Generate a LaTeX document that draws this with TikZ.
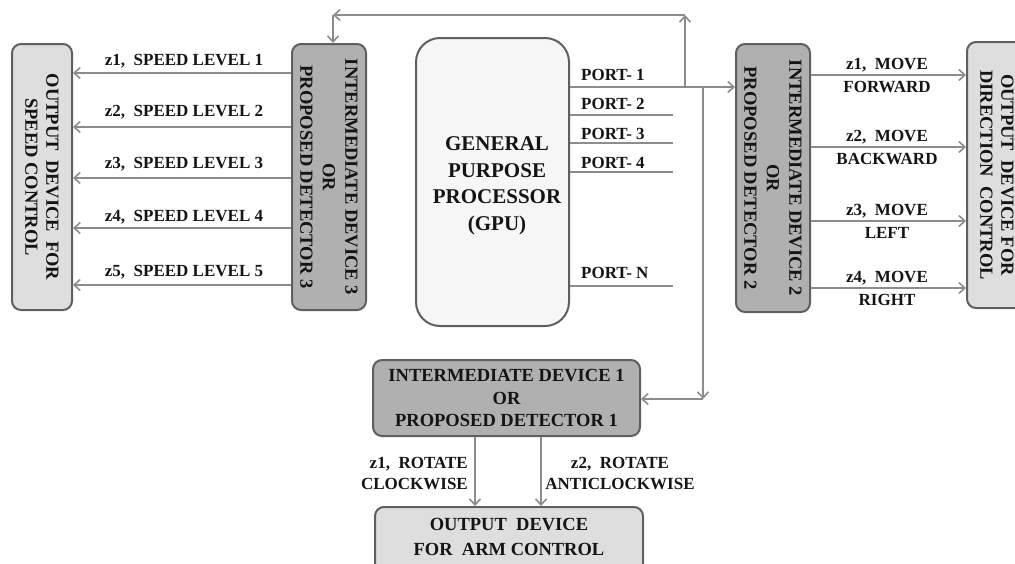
\documentclass[tikz,border=0pt]{standalone}
\usepackage{fontspec}
\setmainfont{Liberation Serif}
\usetikzlibrary{arrows.meta}

\definecolor{boxline}{RGB}{95,95,95}
\definecolor{wire}{RGB}{140,140,140}
\definecolor{darkfill}{RGB}{176,176,176}
\definecolor{lightfill}{RGB}{222,222,222}
\definecolor{gpufill}{RGB}{246,246,246}
\definecolor{ink}{RGB}{20,20,20}

\tikzset{
  box/.style={draw=boxline, line width=2pt, rounded corners=9pt, inner sep=0pt},
  darkbox/.style={box, fill=darkfill},
  lightbox/.style={box, fill=lightfill},
  gpubox/.style={box, fill=gpufill, rounded corners=24pt},
  boxtext/.style={text=ink, font=\bfseries\fontsize{18.5}{22.5}\selectfont, align=center, inner sep=0pt},
  sidetext/.style={boxtext, rotate=-90},
  lbl/.style={text=ink, font=\bfseries\fontsize{17}{21}\selectfont, align=center, inner sep=0pt},
  wireline/.style={draw=wire, line width=1.8pt},
  arr/.style={wireline, -{Straight Barb[length=6pt, width=11pt, line width=1.6pt]}},
}

\begin{document}
\begin{tikzpicture}[x=1pt, y=-1pt]
\useasboundingbox (0,0) rectangle (1015,563);
\clip (0,0) rectangle (1015,563);

% processor in the middle
\node[gpubox, minimum width=153, minimum height=288] (gpu) at (492.5,182) {};
\node[boxtext, font=\bfseries\fontsize{21}{26.5}\selectfont] at (497,186)
  {GENERAL\\PURPOSE\\PROCESSOR\\(GPU)};

% speed branch (left)
\node[lightbox, minimum width=60, minimum height=266] (spd) at (42,177) {};
\node[sidetext, font=\bfseries\fontsize{18.5}{21}\selectfont] at (spd)
  {OUTPUT\ \ DEVICE\ \ FOR\\SPEED CONTROL};
\node[darkbox, minimum width=74, minimum height=266] (dev3) at (329,177) {};
\node[sidetext] at (dev3) {INTERMEDIATE DEVICE 3\\OR\\PROPOSED DETECTOR 3};

% direction branch (right)
\node[darkbox, minimum width=74, minimum height=268] (dev2) at (773,178) {};
\node[sidetext] at (dev2) {INTERMEDIATE DEVICE 2\\OR\\PROPOSED DETECTOR 2};
\node[lightbox, minimum width=60, minimum height=266] (dir) at (997,175) {};
\node[sidetext, font=\bfseries\fontsize{18.5}{21}\selectfont] at (dir)
  {OUTPUT\ \ DEVICE FOR\\DIRECTION\ \ CONTROL};

% arm branch (bottom)
\node[darkbox, minimum width=267, minimum height=76] (dev1) at (506.5,398) {};
\node[boxtext] at (dev1) {INTERMEDIATE DEVICE 1\\OR\\PROPOSED DETECTOR 1};
\node[lightbox, minimum width=268, minimum height=68] (arm) at (509,541) {};
\node[boxtext, font=\bfseries\fontsize{18.5}{25}\selectfont] at (509,537)
  {OUTPUT\ \ DEVICE\\FOR\ \ ARM CONTROL};

% ports of the processor
\coordinate (p2) at (673,115);
\coordinate (p3) at (673,143);
\coordinate (p4) at (673,172);
\coordinate (pN) at (673,286);
\coordinate (j1) at (685,87);
\coordinate (j2) at (703,87);
\draw[arr] (gpu.east |- j1) -- (dev2.west |- j1);
\draw[wireline] (gpu.east |- p2) -- (p2);
\draw[wireline] (gpu.east |- p3) -- (p3);
\draw[wireline] (gpu.east |- p4) -- (p4);
\draw[wireline] (gpu.east |- pN) -- (pN);
\node[lbl, anchor=west] at (581,75) {PORT- 1};
\node[lbl, anchor=west] at (581,104) {PORT- 2};
\node[lbl, anchor=west] at (581,134) {PORT- 3};
\node[lbl, anchor=west] at (581,163) {PORT- 4};
\node[lbl, anchor=west] at (581,273) {PORT- N};

% feed to detector 3 over the top
\coordinate (t1) at (685,15);
\coordinate (t2) at (333,15);
\draw[arr] (j1) -- (t1);
\draw[arr] (t1) -- (t2);
\draw[arr] (t2) -- (dev3.north -| t2);

% feed to detector 1 down the right
\coordinate (b1) at (703,399);
\draw[arr] (j2) -- (b1);
\draw[arr] (b1) -- (dev1.east |- b1);

% speed level outputs
\foreach \k/\ya/\yl in {1/73/61, 2/127/112, 3/178/164, 4/228/217, 5/285/272}{
  \draw[arr] (dev3.west |- 0,\ya) -- (spd.east |- 0,\ya);
  \node[lbl] at (184,\yl) {z\k,\ \ SPEED LEVEL \k};
}

% direction outputs
\foreach \k/\ya/\w in {1/75/FORWARD, 2/147/BACKWARD, 3/221/LEFT, 4/288/RIGHT}{
  \draw[arr] (dev2.east |- 0,\ya) -- (dir.west |- 0,\ya);
  \node[lbl, anchor=south] at (887,\ya-3) {z\k,\ \ MOVE};
  \node[lbl, anchor=north] at (887,\ya+6) {\w};
}

% arm outputs
\coordinate (a1) at (475,0);
\coordinate (a2) at (541,0);
\draw[arr] (dev1.south -| a1) -- (arm.north -| a1);
\draw[arr] (dev1.south -| a2) -- (arm.north -| a2);
\node[lbl, align=right, anchor=east] at (468,473) {z1,\ \ ROTATE\\CLOCKWISE};
\node[lbl] at (620,473) {z2,\ \ ROTATE\\ANTICLOCKWISE};
\end{tikzpicture}
\end{document}
